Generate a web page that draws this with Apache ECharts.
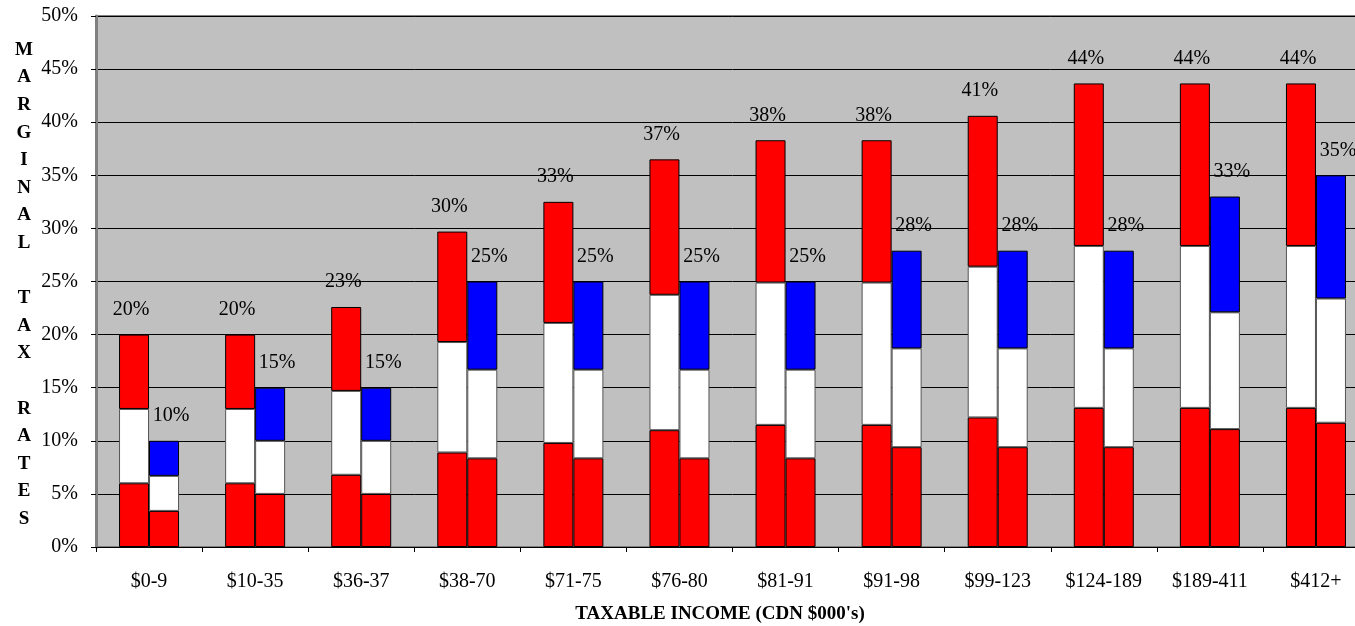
<!DOCTYPE html>
<html>
<head>
<meta charset="utf-8">
<script src="https://cdn.jsdelivr.net/npm/echarts@6/dist/echarts.min.js"></script>
<style>
html,body{margin:0;padding:0;background:#fff;overflow:hidden;width:1355px;height:626px;}
#c{width:1390px;height:626px;}
</style>
</head>
<body>
<div id="c"></div>
<script>
const categories = ['$0-9','$10-35','$36-37','$38-70','$71-75','$76-80','$81-91','$91-98','$99-123','$124-189','$189-411','$412+'];
const yTicks = [0,5,10,15,20,25,30,35,40,45,50];
// first bar of each pair (red / white / red)
const caLow = [6, 6, 6.8, 8.9, 9.8, 11, 11.5, 11.5, 12.2, 13.1, 13.1, 13.1];
const caMid = [7, 7, 7.9, 10.4, 11.3, 12.75, 13.4, 13.4, 14.2, 15.25, 15.25, 15.25];
const caTop = [7, 7, 7.9, 10.4, 11.4, 12.75, 13.4, 13.4, 14.2, 15.3, 15.3, 15.3];
const caTotalLabels = [20, 20, 23, 30, 33, 37, 38, 38, 41, 44, 44, 44];
// second bar of each pair (red / white / blue)
const usLow = [3.4, 5, 5, 8.35, 8.35, 8.35, 8.35, 9.4, 9.4, 9.4, 11.1, 11.7];
const usMid = [3.3, 5, 5, 8.35, 8.35, 8.35, 8.35, 9.3, 9.3, 9.3, 11, 11.7];
const usTop = [3.3, 5, 5, 8.3, 8.3, 8.3, 8.3, 9.2, 9.2, 9.2, 10.9, 11.6];
const usTotalLabels = [10, 15, 15, 25, 25, 25, 25, 28, 28, 28, 33, 35];

const yTitle = 'MARGINAL TAX RATES';
const xTitle = "TAXABLE INCOME (CDN $000's)";

const FONT = '"Liberation Serif", "Times New Roman", serif';
const chart = echarts.init(document.getElementById('c'), null, {renderer: 'canvas'});

function seg(name, stack, data, color, labels, offX) {
  const s = {
    name: name, type: 'bar', stack: stack, data: data,
    barWidth: 30, barGap: '0%',
    itemStyle: {color: color, borderColor: '#000', borderWidth: 1},
    emphasis: {disabled: true}
  };
  if (color === '#ffffff') s.itemStyle.borderColor = '#555';
  if (labels) {
    s.label = {
      show: true, position: 'top', distance: 15, offset: [offX, 0],
      fontFamily: FONT, fontSize: 20, color: '#000',
      formatter: p => labels[p.dataIndex] + '%'
    };
  }
  return s;
}

const yTitleText = yTitle.split('').map(ch => ch === ' ' ? '' : ch).join('\n');

chart.setOption({
  animation: false,
  backgroundColor: '#ffffff',
  grid: {
    left: 96, top: 16, width: 1273, height: 531,
    show: true, backgroundColor: '#c0c0c0', borderColor: '#808080', borderWidth: 2
  },
  xAxis: {
    type: 'category', data: categories,
    axisLine: {show: true, lineStyle: {color: '#000', width: 1}},
    axisTick: {show: true, length: 5, lineStyle: {color: '#000'}},
    axisLabel: {fontFamily: FONT, fontSize: 20, color: '#000', margin: 25},
    splitLine: {show: false}
  },
  yAxis: {
    type: 'value', min: 0, max: 50, interval: 5,
    axisLine: {show: true, lineStyle: {color: '#808080', width: 3}},
    axisTick: {show: true, length: 5, lineStyle: {color: '#000'}},
    axisLabel: {fontFamily: FONT, fontSize: 20, color: '#000', margin: 18,
      formatter: v => (yTicks.indexOf(v) >= 0 ? v + '%' : '')},
    splitLine: {show: true, lineStyle: {color: '#000', width: 1}}
  },
  graphic: [
    {type: 'text', left: 13, top: 36,
      style: {text: yTitleText, fontFamily: FONT, fontSize: 19, fontWeight: 'bold',
        fill: '#000', lineHeight: 27.6, textAlign: 'center', width: 22}},
    {type: 'text', x: 720, y: 614,
      style: {text: xTitle, fontFamily: FONT, fontSize: 19, fontWeight: 'bold', fill: '#000',
        textAlign: 'center', textVerticalAlign: 'middle'}}
  ],
  series: [
    seg('CA low', 'ca', caLow, '#ff0000'),
    seg('CA mid', 'ca', caMid, '#ffffff'),
    seg('CA top', 'ca', caTop, '#ff0000', caTotalLabels, -3),
    seg('US low', 'us', usLow, '#ff0000'),
    seg('US mid', 'us', usMid, '#ffffff'),
    seg('US top', 'us', usTop, '#0000ff', usTotalLabels, 7)
  ]
});
</script>
</body>
</html>
